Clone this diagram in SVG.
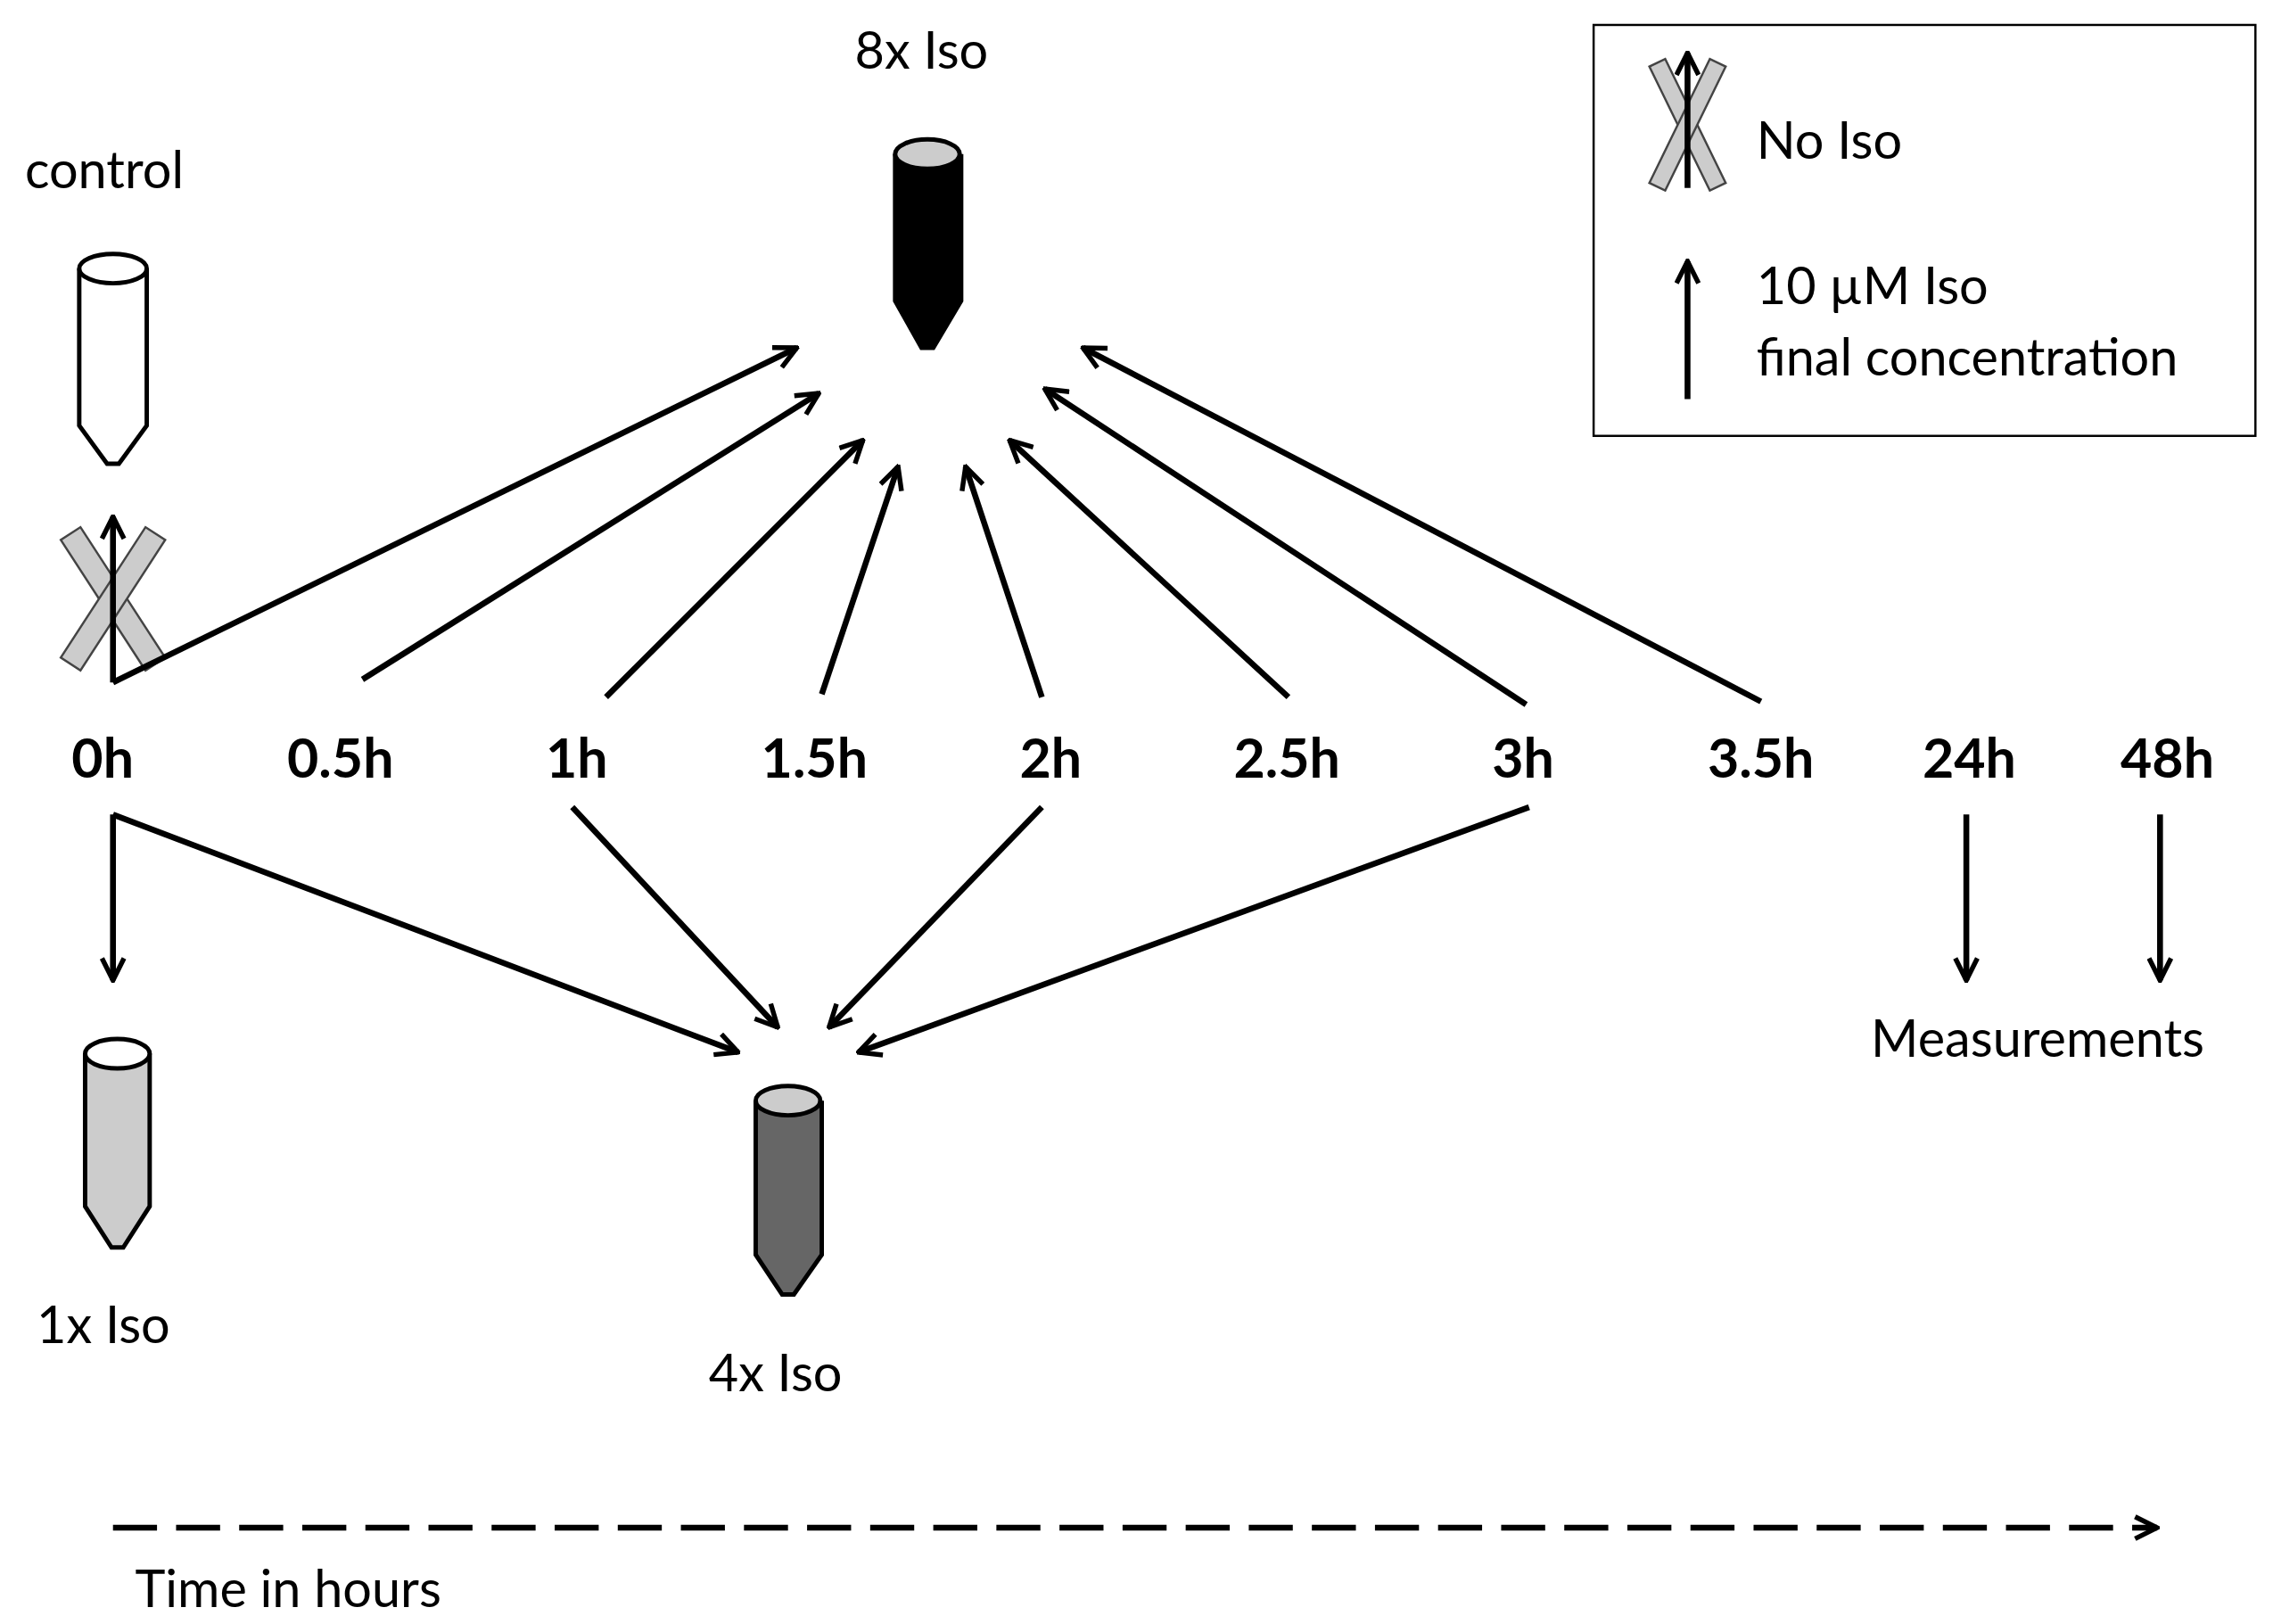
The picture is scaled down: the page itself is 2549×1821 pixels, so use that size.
<svg xmlns="http://www.w3.org/2000/svg" width="2549" height="1821" viewBox="0 0 2549 1821">
<style>
.t{font-family:Lato,"Open Sans","Liberation Sans",sans-serif;font-size:35px;fill:#000}
.b{font-family:Lato,"Open Sans","Liberation Sans",sans-serif;font-size:37px;font-weight:bold;fill:#000;text-anchor:middle}
.c{stroke:#000;stroke-width:4;fill:none}
.tube{stroke:#000;stroke-width:3}
.x{fill:#ccc;stroke:#444;stroke-width:1.5}
</style>
<defs>
<marker id="ah" viewBox="0 0 12 12" refX="11" refY="6" markerWidth="18" markerHeight="18" markerUnits="userSpaceOnUse" orient="auto">
<path d="M1,1 L11,6 L1,11" fill="none" stroke="#000" stroke-width="2.2"/>
</marker>
</defs>
<rect width="2549" height="1821" fill="#fff"/>
<g transform="scale(1.6456)">
<g id="control">
<text class="t" x="17" y="128">control</text>
<path class="tube" fill="#fff" d="M54,183 V290 L73,316 H81 L100,290 V183"/>
<ellipse class="tube" fill="#fff" cx="77" cy="183" rx="23" ry="10"/>
</g>
<g id="iso8">
<text class="t" x="628" y="47" text-anchor="middle">8x Iso</text>
<path class="tube" fill="#000" d="M610,105 V205 L628,237 H636 L655,205 V105"/>
<ellipse class="tube" fill="#ccc" cx="632" cy="105" rx="22" ry="10"/>
</g>
<g id="iso1">
<path class="tube" fill="#ccc" d="M58,718 V822 L76,850 H84 L102,822 V718"/>
<ellipse class="tube" fill="#fff" cx="80" cy="718" rx="22" ry="10"/>
<text class="t" x="25" y="915">1x Iso</text>
</g>
<g id="iso4">
<path class="tube" fill="#666" d="M515,750 V855 L533,882 H541 L560,855 V750"/>
<ellipse class="tube" fill="#ccc" cx="537" cy="750" rx="22" ry="10"/>
<text class="t" x="483" y="948">4x Iso</text>
</g>
<g id="noiso0h">
<rect class="x" x="69" y="355" width="16" height="106" transform="rotate(-33 77 408)"/>
<rect class="x" x="69" y="355" width="16" height="106" transform="rotate(33 77 408)"/>
</g>
<g id="labels">
<text class="b" x="70" y="530">0h</text>
<text class="b" x="232" y="530">0.5h</text>
<text class="b" x="393" y="530">1h</text>
<text class="b" x="555" y="530">1.5h</text>
<text class="b" x="716" y="530">2h</text>
<text class="b" x="877" y="530">2.5h</text>
<text class="b" x="1038" y="530">3h</text>
<text class="b" x="1200" y="530">3.5h</text>
<text class="b" x="1342" y="530">24h</text>
<text class="b" x="1477" y="530">48h</text>
<text class="t" x="1275" y="720">Measurements</text>
<text class="t" x="92" y="1095">Time in hours</text>
</g>
<g id="connectors">
<line class="c" x1="77" y1="465" x2="77" y2="352" marker-end="url(#ah)"/>
<line class="c" x1="77" y1="465" x2="543" y2="237" marker-end="url(#ah)"/>
<line class="c" x1="247" y1="463" x2="558" y2="268" marker-end="url(#ah)"/>
<line class="c" x1="413" y1="475" x2="588" y2="300" marker-end="url(#ah)"/>
<line class="c" x1="560" y1="473" x2="612" y2="318" marker-end="url(#ah)"/>
<line class="c" x1="710" y1="475" x2="658" y2="318" marker-end="url(#ah)"/>
<line class="c" x1="878" y1="475" x2="688" y2="300" marker-end="url(#ah)"/>
<line class="c" x1="1040" y1="480" x2="712" y2="265" marker-end="url(#ah)"/>
<line class="c" x1="1200" y1="478" x2="738" y2="237" marker-end="url(#ah)"/>
<line class="c" x1="77" y1="555" x2="77" y2="668" marker-end="url(#ah)"/>
<line class="c" x1="77" y1="555" x2="503" y2="717" marker-end="url(#ah)"/>
<line class="c" x1="390" y1="550" x2="530" y2="700" marker-end="url(#ah)"/>
<line class="c" x1="710" y1="550" x2="565" y2="700" marker-end="url(#ah)"/>
<line class="c" x1="1042" y1="550" x2="585" y2="717" marker-end="url(#ah)"/>
<line class="c" x1="1340" y1="555" x2="1340" y2="668" marker-end="url(#ah)"/>
<line class="c" x1="1472" y1="555" x2="1472" y2="668" marker-end="url(#ah)"/>
<line class="c" x1="77" y1="1041" x2="1470" y2="1041" stroke-dasharray="30,13" marker-end="url(#ah)"/>
</g>
<g id="legend">
<rect x="1086" y="17" width="451" height="280" fill="#fff" stroke="#000" stroke-width="1.5"/>
<rect class="x" x="1144" y="38" width="12" height="94" transform="rotate(-26 1150 85)"/>
<rect class="x" x="1144" y="38" width="12" height="94" transform="rotate(26 1150 85)"/>
<line class="c" x1="1150" y1="128" x2="1150" y2="36" marker-end="url(#ah)" stroke-width="3"/>
<text class="t" x="1197" y="108">No Iso</text>
<line class="c" x1="1150" y1="272" x2="1150" y2="178" marker-end="url(#ah)" stroke-width="3"/>
<text class="t" x="1197" y="207">10 µM Iso</text>
<text class="t" x="1197" y="256">final concentration</text>
</g>
</g>
</svg>
